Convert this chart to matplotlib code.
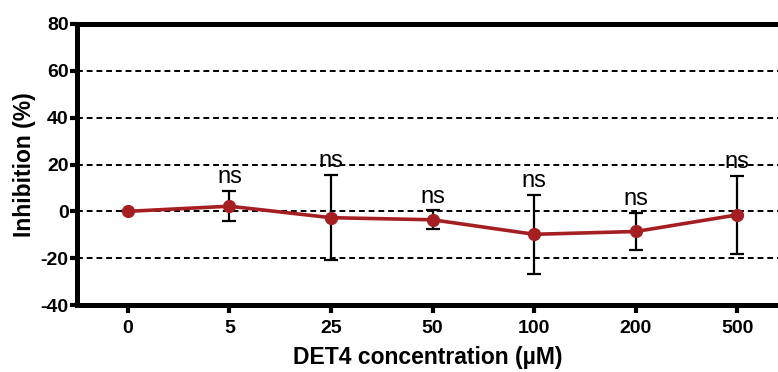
import matplotlib
matplotlib.use("Agg")
import matplotlib.pyplot as plt

plt.rcParams['font.family'] = ['Liberation Sans', 'DejaVu Sans']
plt.rcParams['axes.unicode_minus'] = False

concentrations = ['0', '5', '25', '50', '100', '200', '500']
inhibition = [0.0, 2.2, -2.7, -3.6, -9.8, -8.6, -1.5]
sd = [0.0, 6.4, 18.2, 4.0, 16.8, 8.0, 16.6]
labels = ['', 'ns', 'ns', 'ns', 'ns', 'ns', 'ns']
grid_levels = [60, 40, 20, 0, -20]

fig = plt.figure(figsize=(7.78, 3.72), dpi=100)
ax = fig.add_axes([0.099, 0.18, 0.901, 0.7555])

for g in grid_levels:
    ax.axhline(g, color='black', linestyle=(0, (3, 2)), linewidth=1.4, zorder=1)

x = list(range(len(concentrations)))
ax.errorbar(x, inhibition, yerr=sd, fmt='none', ecolor='black',
            elinewidth=1.6, capsize=5, capthick=1.6, zorder=2)
ax.plot(x, inhibition, color='#A51E22', linewidth=2.6, marker='o',
        markersize=8.5, zorder=3)

for xi, m, s, lab in zip(x, inhibition, sd, labels):
    if lab:
        ax.text(xi, m + s + 1.2, lab, ha='center', va='bottom', fontsize=17)

ax.set_xlim(-0.5, 6.4)
ax.set_ylim(-40, 80)
ax.set_yticks([-40, -20, 0, 20, 40, 60, 80])
ax.set_xticks(x)
ax.set_xticklabels(concentrations)

for side in ['left', 'bottom', 'top']:
    ax.spines[side].set_linewidth(3.6)
ax.spines['right'].set_visible(False)

ax.tick_params(axis='both', width=3, length=5, labelsize=14, direction='out', pad=1)
ax.tick_params(axis='x', length=6, pad=5)
for t in ax.get_xticklabels() + ax.get_yticklabels():
    t.set_fontweight('bold')

ax.set_xlabel('DET4 concentration (µM)', fontsize=16.5, fontweight='bold', labelpad=6)
ax.set_ylabel('Inhibition (%)', fontsize=16.5, fontweight='bold', labelpad=3)

fig.savefig('out.png', dpi=100)
